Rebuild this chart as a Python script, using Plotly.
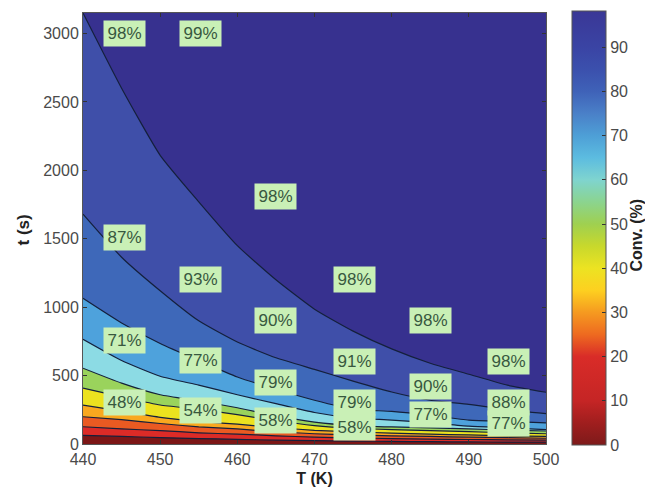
import plotly.graph_objects as go

# Temperature grid (K)
T = [440, 445, 450, 455, 460, 465, 470, 475, 480, 485, 490, 495, 500]

# Contour levels (Conv. %) and time (s) at each T
levels = [98.0, 88.2, 78.4, 68.6, 58.8, 49.0, 39.2, 29.4, 19.6, 9.8]
t_980 = [3150, 2600, 2110, 1770, 1450, 1200, 985, 825, 695, 590, 510, 430, 378]
t_882 = [1680, 1365, 1120, 900, 745, 630, 545, 460, 380, 320, 290, 250, 222]
t_784 = [1065, 885, 735, 610, 490, 400, 320, 255, 238, 210, 175, 165, 155]
t_686 = [765, 610, 495, 430, 360, 295, 230, 190, 175, 155, 130, 118, 105]
t_588 = [554, 445, 360, 315, 265, 205, 160, 135, 125, 118, 110, 102, 95]
t_490 = [408, 345, 285, 255, 215, 170, 135, 115, 105, 98, 90, 82, 75]
t_392 = [284, 240, 195, 165, 145, 120, 100, 88, 80, 72, 66, 60, 55]
t_294 = [199, 178, 150, 125, 110, 90, 75, 66, 60, 55, 50, 46, 42]
t_196 = [126, 110, 98, 82, 72, 60, 50, 44, 40, 36, 33, 30, 28]
t_098 = [63, 55, 47, 40, 34, 28, 24, 21, 19, 17, 15, 14, 13]
curves = [t_980, t_882, t_784, t_686, t_588, t_490, t_392, t_294, t_196, t_098]

# Fill below each level, drawn from the top level down
top_color = "#37318f"
band_colors = ["#3f4fa9", "#3e68b9", "#4ea2dc", "#8cdbe4", "#9ad35c",
               "#ece21f", "#f9a81f", "#ea5a22", "#dc2b27", "#7c1616"]

# In-plot labels
label_T = [445.4, 455.2, 445.4, 455.2, 465, 465, 465, 465, 475.2, 475.2, 475.2, 475.2,
           485, 485, 485, 495.2, 495.2, 495.2, 445.4, 455.2, 445.4, 455.2]
label_t = [3003, 3003, 1509, 1203, 1808, 904, 452, 175, 1203, 605, 306, 124,
           904, 423, 219, 605, 306, 153, 758, 612, 306, 248]
label_text = ["98%", "99%", "87%", "93%", "98%", "90%", "79%", "58%", "98%", "91%", "79%", "58%",
              "98%", "90%", "77%", "98%", "88%", "77%", "71%", "77%", "48%", "54%"]

# Colour bar
cbar_min = 0
cbar_max = 98.2
cbar_ticks = [0, 10, 20, 30, 40, 50, 60, 70, 80, 90]
cbar_stops = [(0, "#7d1a1a"), (5, "#a01e1e"), (10, "#c52525"), (20, "#d92c28"), (25, "#ee6a20"),
              (30, "#f59a20"), (35, "#fdd020"), (40, "#ece322"), (45, "#c8d82c"), (50, "#9fd050"),
              (55, "#8bd48f"), (60, "#7fd4cf"), (65, "#5cbce0"), (70, "#4e9fd6"), (75, "#4a80c8"),
              (80, "#3f62b8"), (85, "#3b50ad"), (90, "#3a44a4"), (98.2, "#3a3796")]

FONT = "Liberation Sans"
TICK = "#4a4a4a"
W_PLOT = 463
H_PLOT = 432

fig = go.Figure()
for lev, curve, color in zip(levels, curves, band_colors):
    fig.add_trace(go.Scatter(
        x=T, y=curve, mode="lines", fill="tozeroy", fillcolor=color,
        line=dict(color="#14203c", width=1.2, shape="spline", smoothing=0.5),
        name=f"{lev}%", showlegend=False, hoverinfo="skip"))

colorscale = [[v / cbar_max, c] for v, c in cbar_stops]
fig.add_trace(go.Scatter(
    x=[T[0]], y=[0], mode="markers", showlegend=False, hoverinfo="skip",
    marker=dict(size=1, opacity=0, color=[cbar_min], cmin=cbar_min, cmax=cbar_max,
                colorscale=colorscale, showscale=True,
                colorbar=dict(x=1.056, xanchor="left", xpad=0, ypad=0, y=0.5, yanchor="middle",
                              len=1.005, thickness=34, outlinecolor="#555555", outlinewidth=1,
                              tickvals=cbar_ticks, ticks="inside", ticklen=4, tickcolor="#333333",
                              tickfont=dict(family=FONT, size=16, color=TICK)))))

for x, y, s in zip(label_T, label_t, label_text):
    fig.add_annotation(x=x, y=y, text=s, showarrow=False, bgcolor="#c9f0b6",
                       font=dict(family=FONT, size=17, color="#38583f"),
                       width=35, height=19, borderpad=3)

fig.add_annotation(xref="paper", yref="paper", x=(636 - 83) / W_PLOT, y=(444 - 235) / H_PLOT,
                   xanchor="center", yanchor="middle",
                   text="<b>Conv. (%)</b>", textangle=-90, showarrow=False,
                   font=dict(family=FONT, size=16, color="#222222"))
fig.add_annotation(xref="paper", yref="paper", x=(23 - 83) / W_PLOT, y=(444 - 229) / H_PLOT,
                   xanchor="center", yanchor="middle",
                   text="<b>t (s)</b>", textangle=-90, showarrow=False,
                   font=dict(family=FONT, size=17, color="#222222"))

axis_common = dict(showgrid=False, zeroline=False, showline=True, linecolor="#555555", linewidth=1,
                   mirror="ticks", ticks="inside", ticklen=4, tickcolor="#333333",
                   tickfont=dict(family=FONT, size=16, color=TICK))
fig.update_xaxes(range=[440, 500], tickvals=[440, 450, 460, 470, 480, 490, 500],
                 ticklabelstandoff=1,
                 title=dict(text="<b>T (K)</b>", standoff=5,
                            font=dict(family=FONT, size=16, color="#222222")), **axis_common)
fig.update_yaxes(range=[0, 3150], tickvals=[0, 500, 1000, 1500, 2000, 2500, 3000], **axis_common)
fig.update_layout(width=645, height=482, margin=dict(l=75, r=107, t=4, b=46),
                  plot_bgcolor=top_color, paper_bgcolor="white", showlegend=False)
fig.write_html("out.html")
